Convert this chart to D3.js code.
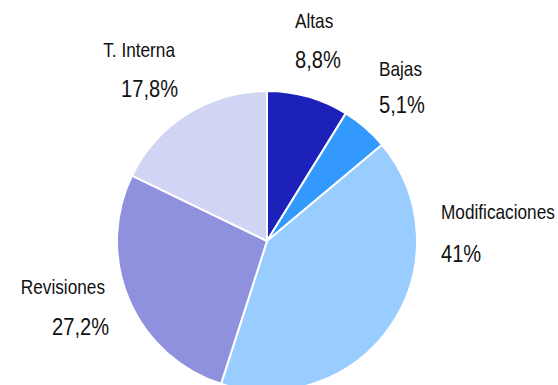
<!DOCTYPE html>
<html>
<head>
<meta charset="utf-8">
<script src="https://cdn.jsdelivr.net/npm/d3@7"></script>
<style>
  html, body { margin: 0; padding: 0; background: #ffffff; }
  svg { display: block; }
  text { font-family: "Liberation Sans", Arial, sans-serif; fill: #111111; }
</style>
</head>
<body>
<svg id="chart" width="558" height="385"></svg>
<script>
// Categories and their shares (%), clockwise from 12 o'clock
const categories = ["Altas", "Bajas", "Modificaciones", "Revisiones", "T. Interna"];
const shares = [8.8, 5.1, 41, 27.2, 17.8];
const shareLabels = ["8,8%", "5,1%", "41%", "27,2%", "17,8%"];
const colors = ["#1c22b9", "#3399ff", "#99ccff", "#9091de", "#d2d4f3"];

// Label placement relative to the pie centre: [dx name, dy name, dx pct, dy pct, anchor]
const labelLayout = [
  [28, -213, 28, -173, "start"],
  [112, -165, 112, -128, "start"],
  [174, -22, 174, 21, "start"],
  [-162, 53, -158, 94, "end"],
  [-92, -184, -89, -144, "end"]
];

const width = 558, height = 385;
const cx = 267, cy = 241, radius = 150;
const narrow = 0.82; // horizontal condensing of the label face

const svg = d3.select("#chart");
const g = svg.append("g").attr("transform", `translate(${cx},${cy})`);

const data = categories.map((c, i) => ({ name: c, value: shares[i], label: shareLabels[i], color: colors[i], i }));

const pie = d3.pie().sort(null).value(d => d.value);
const arc = d3.arc().innerRadius(0).outerRadius(radius);

g.selectAll("path.slice")
  .data(pie(data))
  .join("path")
  .attr("class", "slice")
  .attr("d", arc)
  .attr("fill", d => d.data.color)
  .attr("stroke", "#ffffff")
  .attr("stroke-width", 2)
  .attr("stroke-linejoin", "round");

const labels = g.selectAll("g.label")
  .data(data)
  .join("g")
  .attr("class", "label");

labels.append("text")
  .attr("transform", d => `translate(${labelLayout[d.i][0]},${labelLayout[d.i][1]}) scale(${narrow},1)`)
  .attr("text-anchor", d => labelLayout[d.i][4])
  .style("font-size", "21px")
  .text(d => d.name);

labels.append("text")
  .attr("transform", d => `translate(${labelLayout[d.i][2]},${labelLayout[d.i][3]}) scale(${narrow},1)`)
  .attr("text-anchor", d => labelLayout[d.i][4])
  .style("font-size", "24.5px")
  .text(d => d.label);
</script>
</body>
</html>
